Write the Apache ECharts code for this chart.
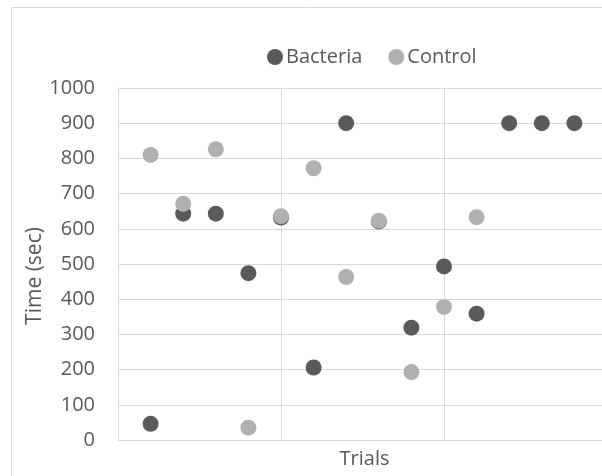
<!DOCTYPE html>
<html>
<head>
<meta charset="utf-8">
<script src="https://cdn.jsdelivr.net/npm/echarts@6/dist/echarts.min.js"></script>
<style>
html,body{margin:0;padding:0;background:#fff;}
#chart{width:602px;height:476px;}
</style>
</head>
<body>
<div id="chart"></div>
<script>
const trials = [1, 2, 3, 4, 5, 6, 7, 8, 9, 10, 11, 12, 13, 14];
const bacteria = [46, 643, 643, 474, 632, 206, 900, 621, 319, 493, 359, 900, 900, 900];
const control = [810, 671, 826, 35, 636, 772, 463, 623, 193, 378, 633];
const yTicks = [0, 100, 200, 300, 400, 500, 600, 700, 800, 900, 1000];
const xGridTicks = [5, 10];

const font = '"Open Sans", sans-serif';
const textColor = '#595959';
const gridColor = '#d9d9d9';

const bacteriaData = bacteria.map((v, i) => [trials[i], v]);
const controlData = control.map((v, i) => [trials[i], v]);

// plot area is cropped at the right edge of the picture (x axis would run to 15)
const xUnit = 32.6;
const gridLeft = 118;
const gridWidth = 602 - gridLeft;
const xMax = +(gridWidth / xUnit).toFixed(3);

const chart = echarts.init(document.getElementById('chart'), null, {renderer: 'canvas'});
chart.setOption({
  backgroundColor: '#ffffff',
  animation: false,
  graphic: [{
    type: 'polyline',
    shape: {points: [[11.5, 480], [11.5, 7.5], [610, 7.5]]},
    style: {fill: null, stroke: gridColor, lineWidth: 1},
    silent: true
  }],
  legend: {
    left: 262,
    top: 42,
    icon: 'circle',
    itemWidth: 16,
    itemHeight: 16,
    itemGap: 26,
    textStyle: {fontFamily: font, fontSize: 20, color: textColor, padding: [0, 0, 0, -2]},
    data: ['Bacteria', 'Control']
  },
  grid: {left: gridLeft, top: 88, width: gridWidth, height: 352, containLabel: false},
  xAxis: {
    type: 'value',
    min: 0,
    max: xMax,
    interval: 5,
    name: 'Trials',
    nameLocation: 'middle',
    nameMoveOverlap: false,
    nameGap: 9,
    nameTextStyle: {fontFamily: font, fontSize: 20, color: textColor, verticalAlign: 'top', padding: [0, 0, 0, 9]},
    axisLine: {show: true, lineStyle: {color: gridColor, width: 1}},
    axisTick: {show: false},
    axisLabel: {show: false},
    splitLine: {show: false}
  },
  yAxis: {
    type: 'value',
    min: yTicks[0],
    max: yTicks[yTicks.length - 1],
    interval: 100,
    name: 'Time (sec)',
    nameLocation: 'middle',
    nameMoveOverlap: false,
    nameGap: 72,
    nameRotate: 90,
    nameTextStyle: {fontFamily: font, fontSize: 21, color: textColor, padding: [0, 24, 0, 0]},
    axisLine: {show: true, lineStyle: {color: gridColor, width: 1}},
    axisTick: {show: false},
    axisLabel: {fontFamily: font, fontSize: 20, color: textColor, margin: 23, formatter: v => String(v)},
    splitLine: {show: true, lineStyle: {color: gridColor, width: 1}}
  },
  series: [
    {
      name: 'Bacteria',
      type: 'scatter',
      symbol: 'circle',
      symbolSize: 16,
      z: 3,
      itemStyle: {color: '#5a5a5a', opacity: 1},
      markLine: {
        silent: true,
        z: 1,
        symbol: ['none', 'none'],
        label: {show: false},
        lineStyle: {color: gridColor, width: 1, type: 'solid'},
        data: xGridTicks.map(v => ({xAxis: v}))
      },
      data: bacteriaData
    },
    {
      name: 'Control',
      type: 'scatter',
      symbol: 'circle',
      symbolSize: 16,
      z: 4,
      itemStyle: {color: '#b0b0b0', opacity: 1},
      data: controlData
    }
  ]
});
</script>
</body>
</html>
